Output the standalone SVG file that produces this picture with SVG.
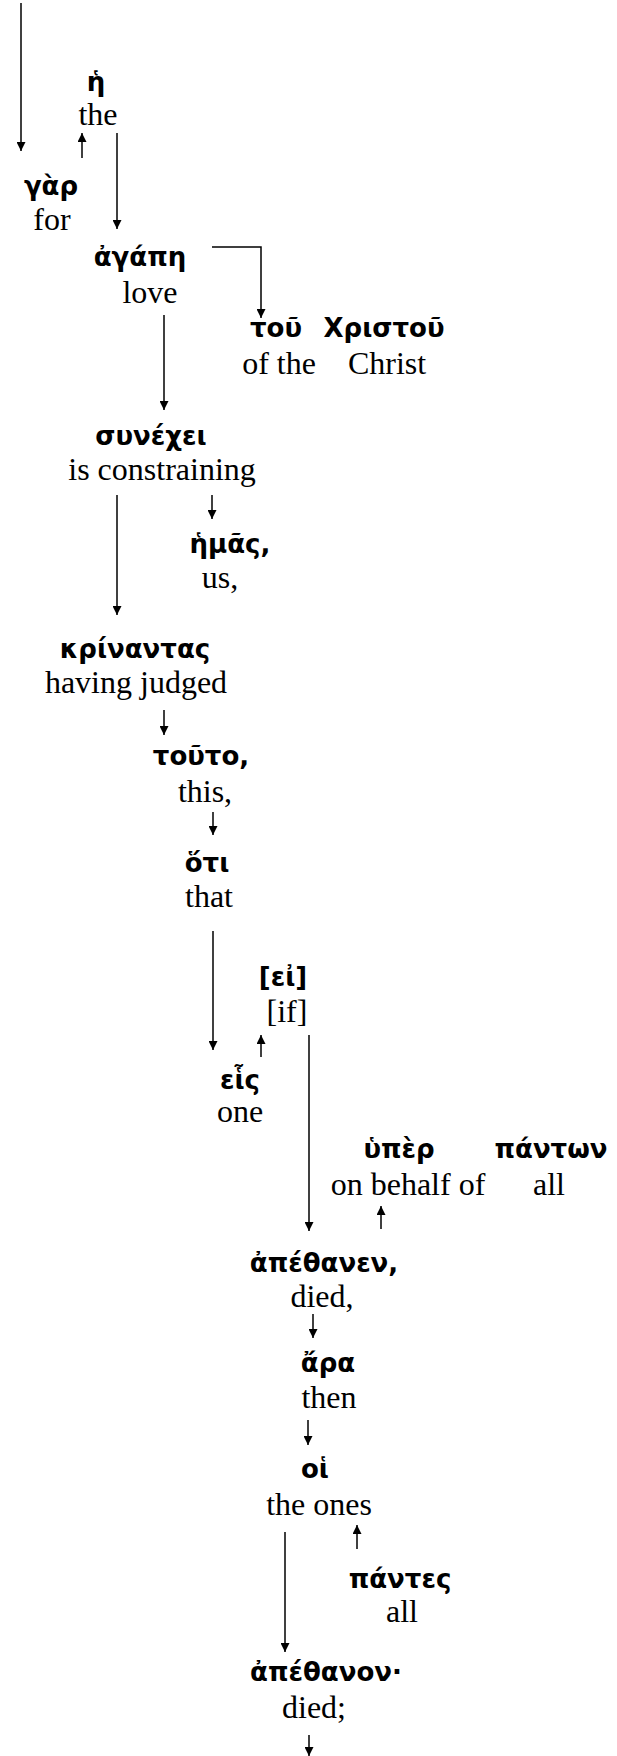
<svg xmlns="http://www.w3.org/2000/svg" width="617" height="1756" viewBox="0 0 617 1756">
<defs>
<marker id="ah" viewBox="0 0 10 10" refX="10" refY="5" markerWidth="11" markerHeight="9" orient="auto" markerUnits="userSpaceOnUse">
<path d="M0,0 L10,5 L0,10 z" fill="#000"/>
</marker>
<style>
.g{font-family:"DejaVu Sans","Noto Sans",sans-serif;font-weight:bold;font-size:26px;fill:#000;text-anchor:middle}
.e{font-family:"Liberation Serif","Times New Roman",serif;font-size:32px;fill:#000;text-anchor:middle}
.c{fill:none;stroke:#000;stroke-width:1.5;marker-end:url(#ah)}
</style>
</defs>
<rect width="617" height="1756" fill="#fff"/>
<g id="connectors">
<path class="c" d="M21,3 V151"/>
<path class="c" d="M82,158 V133"/>
<path class="c" d="M117,133 V229"/>
<path class="c" d="M212,247 H261 V318"/>
<path class="c" d="M164,315 V410"/>
<path class="c" d="M117,495 V615"/>
<path class="c" d="M212,495 V519"/>
<path class="c" d="M164,710 V735"/>
<path class="c" d="M213,812 V835"/>
<path class="c" d="M213,931 V1050"/>
<path class="c" d="M261,1057 V1035"/>
<path class="c" d="M309,1035 V1231"/>
<path class="c" d="M381,1229 V1206"/>
<path class="c" d="M313,1314 V1338"/>
<path class="c" d="M308,1420 V1445"/>
<path class="c" d="M357,1549 V1525"/>
<path class="c" d="M285,1532 V1652"/>
<path class="c" d="M309,1735 V1756"/>
</g>
<g id="n-he"><text class="g" x="96" y="91">ἡ</text><text class="e" x="98" y="125">the</text></g>
<g id="n-gar"><text class="g" x="51" y="195">γὰρ</text><text class="e" x="52" y="230">for</text></g>
<g id="n-agape"><text class="g" x="140" y="266">ἀγάπη</text><text class="e" x="150" y="303">love</text></g>
<g id="n-tou"><text class="g" x="276" y="337">τοῦ</text><text class="e" x="279" y="374">of the</text></g>
<g id="n-christou"><text class="g" x="384" y="337">Χριστοῦ</text><text class="e" x="387" y="374">Christ</text></g>
<g id="n-synechei"><text class="g" x="151" y="445">συνέχει</text><text class="e" x="162" y="480">is constraining</text></g>
<g id="n-hemas"><text class="g" x="230" y="553">ἡμᾶς,</text><text class="e" x="220" y="588">us,</text></g>
<g id="n-krinantas"><text class="g" x="135" y="658">κρίναντας</text><text class="e" x="136" y="693">having judged</text></g>
<g id="n-touto"><text class="g" x="201" y="765">τοῦτο,</text><text class="e" x="205" y="802">this,</text></g>
<g id="n-hoti"><text class="g" x="207" y="872">ὅτι</text><text class="e" x="209" y="907">that</text></g>
<g id="n-ei"><text class="g" x="283" y="986">[εἰ]</text><text class="e" x="287" y="1022">[if]</text></g>
<g id="n-heis"><text class="g" x="240" y="1089">εἷς</text><text class="e" x="240" y="1122">one</text></g>
<g id="n-hyper"><text class="g" x="399" y="1158">ὑπὲρ</text><text class="e" x="408" y="1195">on behalf of</text></g>
<g id="n-panton"><text class="g" x="551" y="1158">πάντων</text><text class="e" x="549" y="1195">all</text></g>
<g id="n-apethanen"><text class="g" x="324" y="1272">ἀπέθανεν,</text><text class="e" x="322" y="1307">died,</text></g>
<g id="n-ara"><text class="g" x="328" y="1372">ἄρα</text><text class="e" x="329" y="1408">then</text></g>
<g id="n-hoi"><text class="g" x="315" y="1478">οἱ</text><text class="e" x="319" y="1515">the ones</text></g>
<g id="n-pantes"><text class="g" x="400" y="1588">πάντες</text><text class="e" x="402" y="1622">all</text></g>
<g id="n-apethanon"><text class="g" x="326" y="1681">ἀπέθανον·</text><text class="e" x="314" y="1718">died;</text></g>
</svg>
